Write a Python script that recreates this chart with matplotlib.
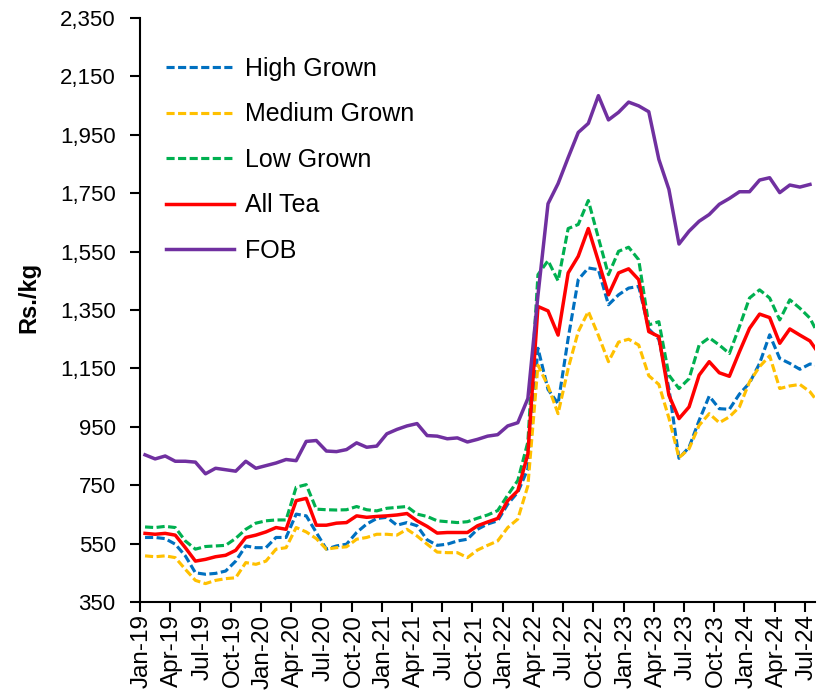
import numpy as np
import matplotlib.pyplot as plt
from matplotlib.ticker import FuncFormatter

plt.rcParams['font.family'] = ['Liberation Sans', 'DejaVu Sans']

# monthly prices, Jan-19 onwards (Rs./kg)
high_grown = [571, 571, 567, 548, 508, 450, 445, 448, 456, 490,
              542, 536, 536, 571, 571, 651, 645, 588, 531, 542,
              548, 588, 617, 636, 640, 613, 622, 611, 563, 544,
              548, 559, 565, 599, 617, 628, 685, 726, 806, 1219,
              1078, 1029, 1253, 1454, 1494, 1488, 1368, 1402, 1425, 1431,
              1285, 1250, 1080, 842, 880, 972, 1055, 1012, 1010, 1062,
              1100, 1167, 1265, 1184, 1167, 1147, 1165, 1160]
medium_grown = [508, 505, 508, 502, 462, 424, 413, 424, 430, 433,
                485, 479, 490, 531, 536, 605, 590, 567, 531, 536,
                539, 565, 571, 582, 582, 579, 599, 576, 548, 521,
                519, 519, 502, 528, 544, 559, 605, 634, 748, 1161,
                1090, 995, 1150, 1276, 1345, 1263, 1173, 1240, 1250, 1230,
                1125, 1095, 980, 844, 875, 955, 995, 964, 984, 1018,
                1104, 1156, 1193, 1081, 1090, 1095, 1070, 1025]
low_grown = [607, 605, 609, 605, 559, 531, 540, 542, 544, 568,
             599, 620, 628, 631, 631, 743, 752, 668, 666, 665,
             666, 677, 666, 662, 671, 674, 677, 651, 643, 628,
             625, 622, 625, 637, 648, 663, 716, 766, 898, 1471,
             1519, 1450, 1629, 1643, 1725, 1597, 1471, 1551, 1565, 1522,
             1299, 1310, 1127, 1081, 1115, 1230, 1255, 1230, 1201, 1293,
             1391, 1419, 1391, 1316, 1385, 1356, 1322, 1255]
all_tea = [585, 582, 585, 579, 536, 490, 496, 505, 510, 527,
           571, 579, 590, 605, 599, 697, 705, 613, 613, 620,
           622, 645, 640, 643, 645, 648, 653, 628, 609, 586,
           588, 588, 588, 611, 624, 636, 697, 731, 857, 1362,
           1347, 1264, 1477, 1534, 1629, 1517, 1402, 1477, 1491, 1454,
           1276, 1259, 1058, 978, 1018, 1127, 1173, 1135, 1123, 1207,
           1287, 1336, 1324, 1236, 1285, 1264, 1244, 1195]
fob = [854, 840, 850, 832, 832, 829, 789, 808, 803, 798,
       832, 808, 817, 826, 838, 834, 900, 903, 867, 865,
       872, 895, 880, 884, 926, 941, 953, 961, 920, 918,
       909, 912, 898, 907, 918, 923, 953, 964, 1047, 1400,
       1714, 1783, 1872, 1958, 1989, 2084, 2001, 2027, 2062, 2049,
       2029, 1866, 1763, 1576, 1620, 1654, 1677, 1712, 1732, 1755,
       1755, 1795, 1803, 1752, 1778, 1771, 1780]

tick_labels = ['Jan-19', 'Apr-19', 'Jul-19', 'Oct-19', 'Jan-20', 'Apr-20',
               'Jul-20', 'Oct-20', 'Jan-21', 'Apr-21', 'Jul-21', 'Oct-21',
               'Jan-22', 'Apr-22', 'Jul-22', 'Oct-22', 'Jan-23', 'Apr-23',
               'Jul-23', 'Oct-23', 'Jan-24', 'Apr-24', 'Jul-24']

n_months = len(fob)
x_auc = np.arange(len(high_grown))
x_fob = np.arange(n_months)

fig = plt.figure(figsize=(8.18, 6.99), dpi=100)
ax = fig.add_axes([140 / 818, 1 - 602 / 699, 675 / 818, 584 / 699])

dash = (2.6, 1.1)
ax.plot(x_auc, high_grown, color='#0070C0', lw=2.25, dashes=dash, label='High Grown')
ax.plot(x_auc, medium_grown, color='#FFC000', lw=2.25, dashes=dash, label='Medium Grown')
ax.plot(x_auc, low_grown, color='#00B050', lw=2.25, dashes=dash, label='Low Grown')
ax.plot(x_auc, all_tea, color='#FF0000', lw=2.5, label='All Tea')
ax.plot(x_fob, fob, color='#7030A0', lw=2.5, label='FOB')

ax.set_xlim(-0.5, n_months - 0.5)
ax.set_ylim(350, 2350)
ax.set_yticks(np.arange(350, 2351, 200))
ax.yaxis.set_major_formatter(FuncFormatter(lambda v, p: f'{v:,.0f}'))

# labels near the month, tick marks on category boundaries
ax.set_xticks(np.arange(0, n_months, 3) - 0.3)
ax.set_xticklabels(tick_labels, rotation=90)
ax.set_xticks(np.arange(-0.5, n_months - 1, 3), minor=True)
ax.tick_params(axis='x', which='major', length=0, pad=9, labelsize=17.5)
ax.tick_params(axis='x', which='minor', length=7, width=1.5, direction='out')
ax.tick_params(axis='y', length=7, width=1.5, direction='out', pad=10.5, labelsize=16)

for side in ['top', 'right']:
    ax.spines[side].set_visible(False)
for side in ['left', 'bottom']:
    ax.spines[side].set_linewidth(1.5)

ax.set_ylabel('Rs./kg', fontsize=17, fontweight='bold')
ax.yaxis.set_label_coords(-0.148, 0.522)

ax.legend(loc='upper left', bbox_to_anchor=(0.02, 0.955), frameon=False,
          fontsize=18, handlelength=2.7, handletextpad=0.45, labelspacing=0.86,
          borderpad=0)

fig.savefig('out.png', dpi=100)
